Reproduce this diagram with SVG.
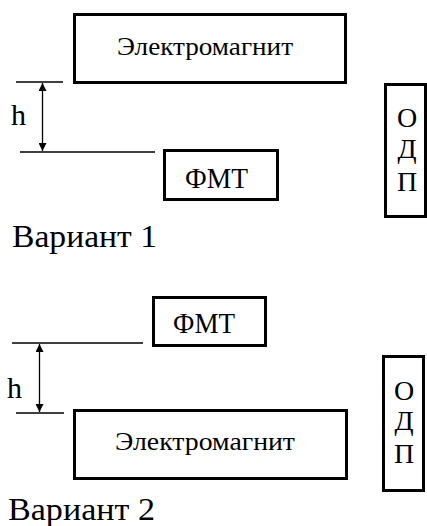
<svg xmlns="http://www.w3.org/2000/svg" width="427" height="526" viewBox="0 0 427 526">
  <style>
    .box { fill: none; stroke: #000; stroke-width: 3; }
    .dim { fill: none; stroke: #000; stroke-width: 1.3; }
    text { font-family: 'Liberation Serif', 'DejaVu Serif', 'Noto Serif', serif; fill: #000; }
    .cap { font-size: 31px; }
    .fmt { font-size: 29px; }
    .mag { font-size: 26px; }
    .hh { font-size: 30px; }
    .odp { font-size: 28px; text-anchor: middle; }
  </style>
  <defs>
    <marker id="arr" viewBox="0 0 10 10" refX="10" refY="5" markerWidth="8" markerHeight="8" markerUnits="userSpaceOnUse" orient="auto-start-reverse">
      <path d="M0,0 L10,5 L0,10 z" fill="#000"/>
    </marker>
  </defs>
  <rect width="427" height="526" fill="#fff"/>

  <!-- Variant 1 -->
  <g id="v1-magnet">
    <rect class="box" x="74.5" y="14.5" width="271" height="68"/>
    <text class="mag" font-family="Liberation Serif, serif" x="117" y="55" textLength="176" lengthAdjust="spacingAndGlyphs">Электромагнит</text>
  </g>
  <g id="v1-fmt">
    <rect class="box" x="164.5" y="150.5" width="113" height="49"/>
    <text class="fmt" x="185" y="188" textLength="63" lengthAdjust="spacingAndGlyphs">ФМТ</text>
  </g>
  <g id="v1-odp">
    <rect class="box" x="385.5" y="84.5" width="40" height="132"/>
    <text class="odp" x="407" y="127">О</text>
    <text class="odp" x="407" y="158">Д</text>
    <text class="odp" x="407" y="191">П</text>
  </g>
  <g id="v1-caption">
    <text class="cap" x="12" y="247" textLength="145" lengthAdjust="spacingAndGlyphs">Вариант 1</text>
  </g>

  <!-- Variant 2 -->
  <g id="v2-fmt">
    <rect class="box" x="153.5" y="297.5" width="112" height="48"/>
    <text class="fmt" x="173" y="333" textLength="62" lengthAdjust="spacingAndGlyphs">ФМТ</text>
  </g>
  <g id="v2-magnet">
    <rect class="box" x="74.5" y="410.5" width="272" height="68"/>
    <text class="mag" x="115" y="450" textLength="180" lengthAdjust="spacingAndGlyphs">Электромагнит</text>
  </g>
  <g id="v2-odp">
    <rect class="box" x="383.5" y="356.5" width="40" height="134"/>
    <text class="odp" x="404" y="400">О</text>
    <text class="odp" x="404" y="430">Д</text>
    <text class="odp" x="404" y="463">П</text>
  </g>
  <g id="v2-caption">
    <text class="cap" x="8" y="520" textLength="147" lengthAdjust="spacingAndGlyphs">Вариант 2</text>
  </g>
  <g id="figure-caption">
    <text class="cap" x="203" y="547">Рис. 11</text>
  </g>

  <!-- gap dimensions -->
  <g id="connectors">
    <line class="dim" x1="16" y1="82" x2="63" y2="82"/>
    <line class="dim" x1="20" y1="152" x2="155" y2="152"/>
    <line class="dim" x1="42.5" y1="83" x2="42.5" y2="151" marker-start="url(#arr)" marker-end="url(#arr)"/>
    <text class="hh" x="11" y="125">h</text>

    <line class="dim" x1="12" y1="343" x2="143" y2="343"/>
    <line class="dim" x1="16" y1="413" x2="64" y2="413"/>
    <line class="dim" x1="39.5" y1="344" x2="39.5" y2="412" marker-start="url(#arr)" marker-end="url(#arr)"/>
    <text class="hh" x="7" y="398">h</text>
  </g>
</svg>
